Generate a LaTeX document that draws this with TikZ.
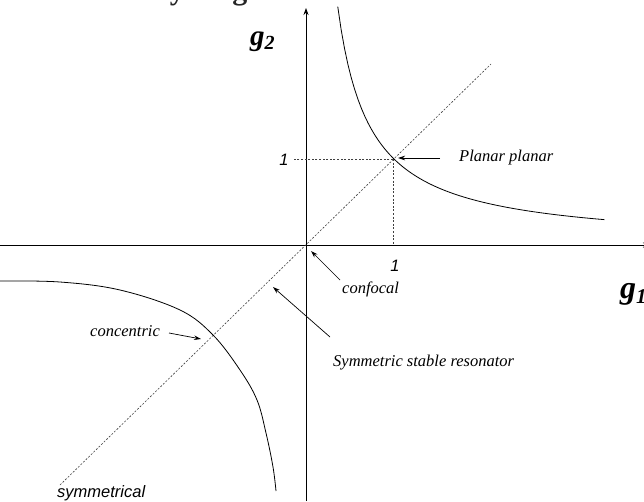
\documentclass[tikz,border=0pt]{standalone}
\usepackage{fontspec}
\setmainfont{Liberation Serif}
\newfontfamily\arialfont{Liberation Sans}
\usetikzlibrary{arrows.meta}

\tikzset{
    axis/.style={line width=0.8pt, -{Stealth[length=7pt,width=5pt]}},
    guide/.style={line width=0.6pt, dash pattern=on 2pt off 1.6pt, black!75},
    branch/.style={line width=0.8pt},
    pointer/.style={line width=0.7pt, -{Stealth[length=7pt,width=4.5pt]}},
    tag/.style={font=\fontsize{16.5}{18}\selectfont\itshape, inner sep=0pt},
    num/.style={font=\fontsize{16.5}{18}\selectfont\arialfont\itshape, inner sep=0pt},
    gain/.style={font=\bfseries\itshape, inner sep=0pt, anchor=base west},
}

\begin{document}
\begin{tikzpicture}[x=1pt, y=-1pt]
    \useasboundingbox (0,0) rectangle (644,501);

    \node[anchor=base east, inner sep=0pt, text=black!85, font=\fontsize{30}{32}\selectfont\bfseries] (title) at (301,-1) {Resonator stability diagram};

    \coordinate (o) at (306,245);
    \coordinate (p) at (393,159);
    \coordinate (yb) at (306,501);
    \coordinate (yt) at (306,8);
    \coordinate (xl) at (0,245);
    \coordinate (xr) at (650,245);
    \coordinate (d1) at (60,485);
    \coordinate (d2) at (491,64);
    \coordinate (py) at (293,159);
    \coordinate (px) at (393,245);

    \draw[axis] (yb) -- (yt);
    \draw[axis] (xl) -- (xr);

    \draw[guide] (d1) -- (d2);
    \draw[guide] (p) -- (py);
    \draw[guide] (p) -- (px);

    \draw[branch] plot[domain=0.365:3.43, samples=80] ({306+87*\x},{245-87/\x});
    \draw[branch] plot[smooth, tension=0.6] coordinates {(0,281) (60,282) (120,290) (180,310) (213,335) (240,370) (257,400) (266,433) (273,467) (276,491)};

    \node[gain] (g2) at (250,45) {\fontsize{29}{30}\selectfont g\raisebox{-4pt}{\fontsize{20}{20}\selectfont 2}};
    \node[gain] (g1) at (620,298) {\fontsize{32}{34}\selectfont g\raisebox{-5pt}{\fontsize{21}{21}\selectfont 1}};

    \node[num] (oney) at (284,160) {1};
    \node[num] (onex) at (395,266) {1};

    \node[tag, anchor=base west] (planar) at (459,161) {Planar planar};
    \node[tag, anchor=base west] (confocal) at (342,293) {confocal};
    \node[tag, anchor=base west] (stable) at (333,366) {Symmetric stable resonator};
    \node[tag, anchor=base west] (concentric) at (90,336) {concentric};
    \node[num, anchor=base west] (symm) at (57,497) {symmetrical};

    \coordinate (pa) at (440,158);
    \coordinate (pb) at (398,158);
    \coordinate (ca) at (340,280);
    \coordinate (cb) at (311,251);
    \coordinate (sa) at (330,337);
    \coordinate (sb) at (273,287);
    \coordinate (na) at (169,333);
    \coordinate (nb) at (201,339);

    \draw[pointer] (pa) -- (pb);
    \draw[pointer] (ca) -- (cb);
    \draw[pointer] (sa) -- (sb);
    \draw[pointer] (na) -- (nb);
\end{tikzpicture}
\end{document}
